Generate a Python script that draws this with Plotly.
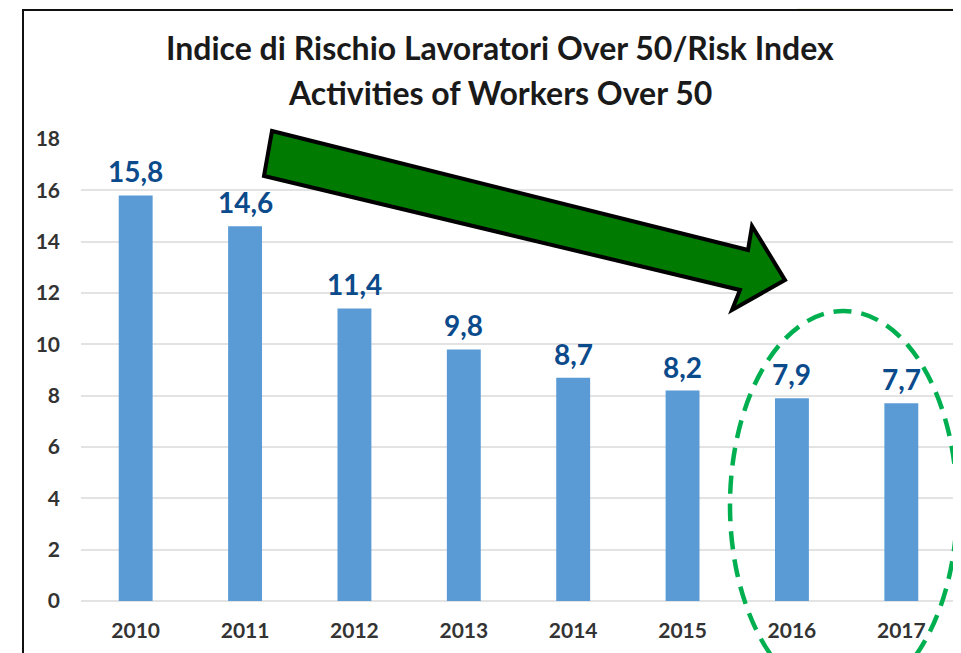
import plotly.graph_objects as go

years = ["2010", "2011", "2012", "2013", "2014", "2015", "2016", "2017"]
values = [15.8, 14.6, 11.4, 9.8, 8.7, 8.2, 7.9, 7.7]
value_labels = ["15,8", "14,6", "11,4", "9,8", "8,7", "8,2", "7,9", "7,7"]
y_ticks = [0, 2, 4, 6, 8, 10, 12, 14, 16, 18]
title_line1 = "Indice di Rischio Lavoratori Over 50/Risk Index"
title_line2 = "Activities of Workers Over 50"

OFF = 8  # page body margin
W, H = 961, 653
PL, PR, PT, PB = 81, 956, 139, 601  # plot area in window pixels
L, R, T, B = PL - OFF, (W + OFF - PR), PT - OFF, (H + OFF - PB)
PW, PH = PR - PL, PB - PT


def px(x):
    return (x - PL) / PW


def py(y):
    return (PB - y) / PH


FONT = "Lato"
fig = go.Figure()
fig.add_trace(go.Bar(
    x=years, y=values, marker=dict(color="#5B9BD5", line=dict(width=0)),
    hoverinfo="skip",
))

annotations = []
for i, (v, lab) in enumerate(zip(values, value_labels)):
    annotations.append(dict(
        x=i, y=v, xref="x", yref="y", text=lab, showarrow=False,
        yanchor="middle", yshift=24,
        font=dict(family=FONT, size=28, color="#0B4A8B", weight="bold"),
    ))
annotations.append(dict(
    x=px(500), y=py(48), xref="paper", yref="paper", text=title_line1,
    showarrow=False, xanchor="center", yanchor="middle",
    font=dict(family=FONT, size=32, color="#1a1a1a", weight="bold"),
))
annotations.append(dict(
    x=px(500), y=py(92), xref="paper", yref="paper", text=title_line2,
    showarrow=False, xanchor="center", yanchor="middle",
    font=dict(family=FONT, size=32, color="#1a1a1a", weight="bold"),
))

# arrow polygon (window pixel coords -> paper)
arrow_pts = [(272, 131), (748, 250), (752, 226), (785, 280), (732, 310), (740, 290), (264, 176)]
path = "M " + " L ".join(f"{px(x):.5f},{py(y):.5f}" for x, y in arrow_pts) + " Z"

shapes = [
    dict(type="rect", xref="paper", yref="paper", x0=px(797), x1=px(975), y0=py(9), y1=py(0),
         fillcolor="#F3F6E9", line=dict(width=0), layer="below"),
    dict(type="rect", xref="paper", yref="paper", x0=px(23), x1=px(990), y0=py(680), y1=py(10),
         line=dict(color="#111111", width=2), fillcolor="rgba(0,0,0,0)", layer="above"),
    dict(type="path", xref="paper", yref="paper", path=path,
         fillcolor="#007A00", line=dict(color="black", width=4), layer="above"),
    dict(type="circle", xref="paper", yref="paper", x0=px(730), x1=px(957), y0=py(700), y1=py(311),
         line=dict(color="#00B050", width=4.5, dash="18px,10px"), fillcolor="rgba(0,0,0,0)", layer="above"),
]

fig.update_layout(
    width=W, height=H,
    margin=dict(l=L, r=R, t=T, b=B, pad=0),
    paper_bgcolor="white", plot_bgcolor="white",
    showlegend=False, bargap=0.69,
    annotations=annotations, shapes=shapes,
    xaxis=dict(
        type="category", range=[-0.5, len(years) - 0.5], showgrid=False, zeroline=False,
        showline=False, ticks="",
        tickfont=dict(family=FONT, size=21, color="#333333", weight="bold"), ticklabelstandoff=15,
    ),
    yaxis=dict(
        range=[0, 18], tickvals=y_ticks, showgrid=True, gridcolor="#E3E3E3", gridwidth=2,
        zeroline=True, zerolinecolor="#E3E3E3", zerolinewidth=2, showline=False, ticks="",
        tickfont=dict(family=FONT, size=21, color="#333333", weight="bold"), ticklabelstandoff=20,
    ),
)

fig.write_html("out.html")
